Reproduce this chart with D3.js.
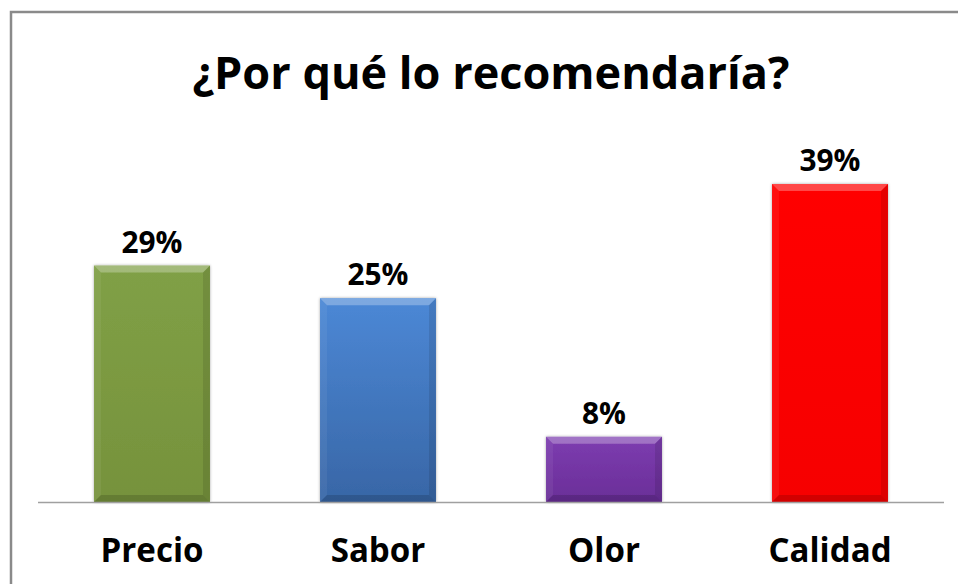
<!DOCTYPE html>
<html>
<head>
<meta charset="utf-8">
<script src="https://cdn.jsdelivr.net/npm/d3@7"></script>
<style>
  html, body { margin: 0; padding: 0; background: #fff; }
  svg { display: block; }
  text { font-family: "Open Sans", Lato, sans-serif; font-weight: 700; fill: #000; }
</style>
</head>
<body>
<div id="container"></div>
<script>
// data
const categories = ["Precio", "Sabor", "Olor", "Calidad"]
const values = [29, 25, 8, 39]
const labels = ["29%", "25%", "8%", "39%"]
const colorsTop = ["#80a046", "#4c88d6", "#7d3db0", "#ff0000"]
const colorsBottom = ["#76923c", "#3866a6", "#6a2e98", "#f60000"]
const title = "¿Por qué lo recomendaría?"

const W = 958, H = 584
const svg = d3.select("#container").append("svg")
    .attr("width", W).attr("height", H)

// frame of the chart area
svg.append("path")
    .attr("d", `M11,${H + 2} L11,12 L${W + 2},12`)
    .attr("fill", "none")
    .attr("stroke", "#8a8a8a")
    .attr("stroke-width", 2.5)

const x = d3.scaleBand().domain(categories).range([39, 943]).paddingInner(0.487).paddingOuter(0.2435)
const y = d3.scaleLinear().domain([0, 39]).range([502, 184])

const defs = svg.append("defs")
categories.forEach((c, i) => {
    let g = defs.append("linearGradient").attr("id", "g" + i)
        .attr("x1", 0).attr("y1", 0).attr("x2", 0).attr("y2", 1)
    g.append("stop").attr("offset", "0%").attr("stop-color", colorsTop[i])
    g.append("stop").attr("offset", "100%").attr("stop-color", colorsBottom[i])
})
let f = defs.append("filter").attr("id", "sh").attr("x", "-10%").attr("y", "-10%").attr("width", "120%").attr("height", "120%")
f.append("feGaussianBlur").attr("in", "SourceAlpha").attr("stdDeviation", 1.5)
f.append("feComponentTransfer").append("feFuncA").attr("type", "linear").attr("slope", 0.35)
let m = f.append("feMerge")
m.append("feMergeNode")
m.append("feMergeNode").attr("in", "SourceGraphic")

const bars = svg.append("g").selectAll("g")
    .data(categories)
    .enter()
    .append("g")

const bv = 7
bars.append("rect")
    .attr("x", d => x(d))
    .attr("y", (d, i) => y(values[i]))
    .attr("width", x.bandwidth())
    .attr("height", (d, i) => y(0) - y(values[i]))
    .attr("fill", (d, i) => `url(#g${i})`)
    .attr("filter", "url(#sh)")

// bevel edges
function bevel(d, i, side) {
    let x0 = x(d), x1 = x(d) + x.bandwidth(), y0 = y(values[i]), y1 = y(0)
    if (side == "top") return `M${x0},${y0} L${x1},${y0} L${x1 - bv},${y0 + bv} L${x0 + bv},${y0 + bv}Z`
    if (side == "left") return `M${x0},${y0} L${x0 + bv},${y0 + bv} L${x0 + bv},${y1 - bv} L${x0},${y1}Z`
    if (side == "right") return `M${x1},${y0} L${x1},${y1} L${x1 - bv},${y1 - bv} L${x1 - bv},${y0 + bv}Z`
    return `M${x0},${y1} L${x0 + bv},${y1 - bv} L${x1 - bv},${y1 - bv} L${x1},${y1}Z`
}
bars.append("path").attr("d", (d, i) => bevel(d, i, "top")).attr("fill", "#fff").attr("opacity", 0.28)
bars.append("path").attr("d", (d, i) => bevel(d, i, "left")).attr("fill", "#fff").attr("opacity", 0.06)
bars.append("path").attr("d", (d, i) => bevel(d, i, "right")).attr("fill", "#000").attr("opacity", 0.1)
bars.append("path").attr("d", (d, i) => bevel(d, i, "bottom")).attr("fill", "#000").attr("opacity", 0.15)

// baseline
svg.append("line")
    .attr("x1", 38).attr("x2", 944)
    .attr("y1", y(0) + 0.5).attr("y2", y(0) + 0.5)
    .attr("stroke", "#a0a0a0").attr("stroke-width", 1.5)

// scale a font so that a text gets the wanted width
function fit(sel, base, want) {
    sel.attr("font-size", base)
    let w = sel.node().getComputedTextLength()
    return base * want / w
}

// value labels
const vl = bars.append("text")
    .attr("x", d => x(d) + x.bandwidth() / 2)
    .attr("y", (d, i) => y(values[i]) - 13)
    .attr("text-anchor", "middle")
    .text((d, i) => labels[i])
vl.attr("font-size", fit(vl.filter((d, i) => i == 0), 26, 61))

// category axis
const axis = svg.append("g")
    .attr("transform", `translate(0,${y(0)})`)
    .call(d3.axisBottom(x).tickSize(0).tickPadding(0))
axis.select(".domain").remove()
const cl = axis.selectAll("text")
    .attr("y", 60)
    .attr("dy", 0)
    .attr("font-family", null)
    .attr("fill", "#000")
cl.attr("font-size", fit(cl.filter((d, i) => i == 0), 28, 103))

// title
const tt = svg.append("text")
    .attr("x", 491)
    .attr("y", 89)
    .attr("text-anchor", "middle")
    .text(title)
tt.attr("font-size", fit(tt, 40, 597))
</script>
</body>
</html>
